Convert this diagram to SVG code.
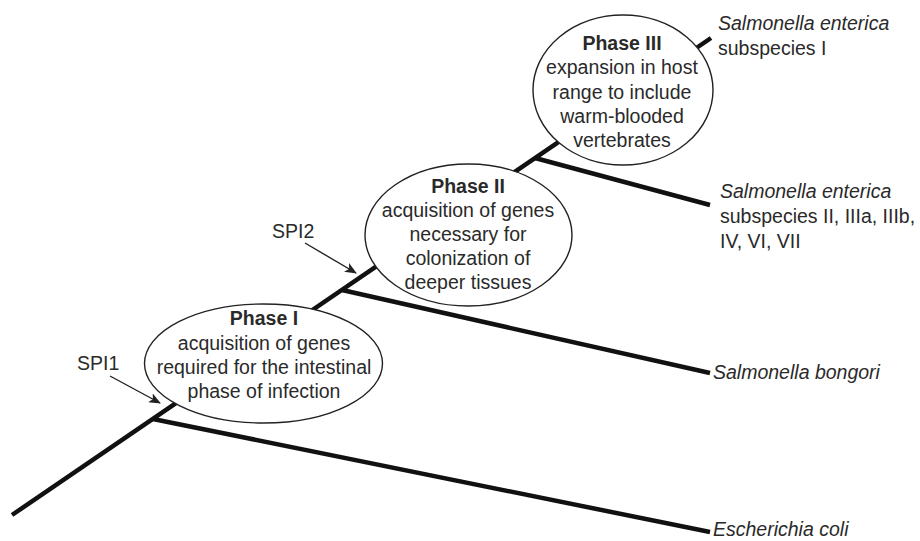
<svg xmlns="http://www.w3.org/2000/svg" width="920" height="541" viewBox="0 0 920 541">
<style>
  .tree { stroke: #111; stroke-width: 4.5; fill: none; stroke-linecap: butt; }
  .ell { fill: #fff; stroke: #222; stroke-width: 1.4; }
  .t { font-family: "Liberation Sans", Arial, Helvetica, sans-serif; font-size: 19.5px; fill: #2a2a2a; }
  .c { text-anchor: middle; }
  .b { font-weight: bold; }
  .i { font-style: italic; }
  .arr { stroke: #222; stroke-width: 1.4; fill: none; }
</style>
<defs>
  <marker id="ah" viewBox="0 0 12 10" refX="11" refY="5" markerWidth="12" markerHeight="10" markerUnits="userSpaceOnUse" orient="auto">
    <path d="M0,0 L12,5 L0,10 L3,5 Z" fill="#222"/>
  </marker>
</defs>
<g id="connectors">
  <line class="tree" x1="12" y1="515" x2="711" y2="38"/>
  <line class="tree" x1="153" y1="419" x2="710" y2="532"/>
  <line class="tree" x1="342" y1="290" x2="710" y2="373"/>
  <line class="tree" x1="535" y1="158" x2="710" y2="205"/>
  <line class="arr" x1="110" y1="376" x2="160" y2="403" marker-end="url(#ah)"/>
  <line class="arr" x1="305" y1="243" x2="356" y2="273" marker-end="url(#ah)"/>
</g>
<g id="phase1">
  <ellipse class="ell" cx="263.5" cy="363.5" rx="119" ry="59.5"/>
  <text class="t c b" x="264" y="325">Phase I</text>
  <text class="t c" x="264" y="350">acquisition of genes</text>
  <text class="t c" x="264" y="374">required for the intestinal</text>
  <text class="t c" x="264" y="398">phase of infection</text>
</g>
<g id="phase2">
  <ellipse class="ell" cx="468.5" cy="235" rx="103.5" ry="71"/>
  <text class="t c b" x="468" y="193">Phase II</text>
  <text class="t c" x="468" y="217">acquisition of genes</text>
  <text class="t c" x="468" y="241">necessary for</text>
  <text class="t c" x="468" y="265">colonization of</text>
  <text class="t c" x="468" y="289">deeper tissues</text>
</g>
<g id="phase3">
  <ellipse class="ell" cx="623" cy="90" rx="90" ry="75"/>
  <text class="t c b" x="622" y="50">Phase III</text>
  <text class="t c" x="622" y="74">expansion in host</text>
  <text class="t c" x="622" y="99">range to include</text>
  <text class="t c" x="622" y="123">warm-blooded</text>
  <text class="t c" x="622" y="147">vertebrates</text>
</g>
<g id="spi1"><text class="t" x="77" y="370">SPI1</text></g>
<g id="spi2"><text class="t" x="272" y="238">SPI2</text></g>
<g id="sp-enterica-I">
  <text class="t i" x="718" y="30">Salmonella enterica</text>
  <text class="t" x="718" y="55">subspecies I</text>
</g>
<g id="sp-enterica-II">
  <text class="t i" x="720" y="198">Salmonella enterica</text>
  <text class="t" x="720" y="223">subspecies II, IIIa, IIIb,</text>
  <text class="t" x="720" y="248">IV, VI, VII</text>
</g>
<g id="sp-bongori"><text class="t i" x="713" y="379">Salmonella bongori</text></g>
<g id="sp-ecoli"><text class="t i" x="713" y="536">Escherichia coli</text></g>
</svg>
